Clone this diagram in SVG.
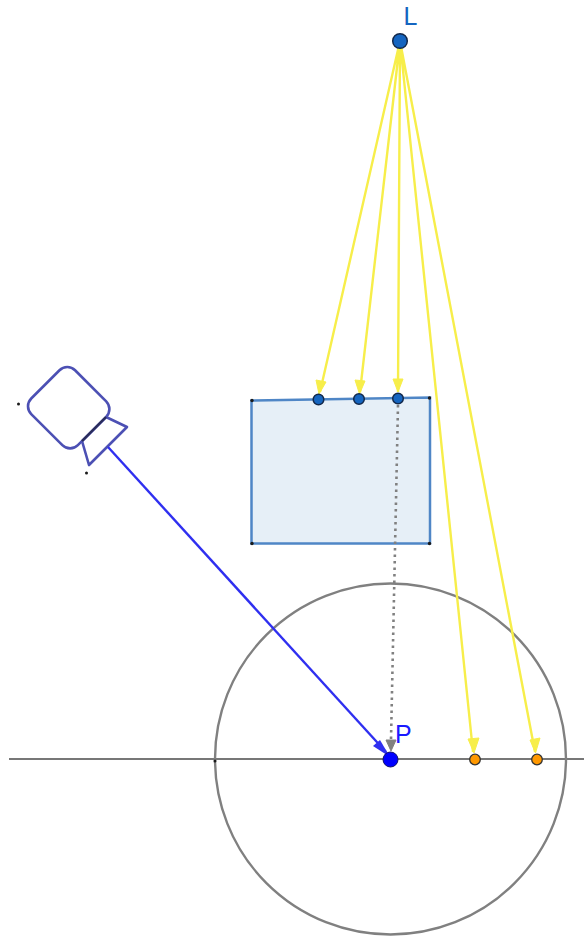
<svg xmlns="http://www.w3.org/2000/svg" width="584" height="942" viewBox="0 0 584 942">
<style>
text{font-family:"Liberation Sans",Arial,sans-serif;font-size:25px}
.ray{stroke:#f7ee4a;stroke-width:2.4;fill:none}
.dot{fill:#1a1a1a}
.cam{fill:#fff;stroke:#4c50b4;stroke-width:2.6;stroke-linejoin:round}
.b{fill:#1565c0;stroke:#13294b;stroke-width:1.5}
.o{fill:#ff9800;stroke:#333;stroke-width:1.3}
</style>
<defs>
<marker id="y" viewBox="0 0 12 14" refX="6" refY="14" markerWidth="12" markerHeight="14" markerUnits="userSpaceOnUse" orient="auto" ><path d="M0 0L6 3L12 0L6 14Z" fill="#f7ee4a" transform="rotate(0)"/></marker>
</defs>
<rect width="584" height="942" fill="#fff"/>
<g id="ground"><line x1="9" y1="759" x2="584" y2="759" stroke="#777" stroke-width="2.2"/></g>
<g id="circle"><circle cx="390.500" cy="759" r="175.500" fill="none" stroke="#808080" stroke-width="2.400"/><circle cx="215" cy="761" r="1.500" class="dot"/></g>
<g id="box">
<path d="M251.500 400.500L430 397.500V543.500H251.500Z" fill="#e6eff7" stroke="#4f86c6" stroke-width="2.500"/>
<circle cx="252" cy="400.500" r="1.700" class="dot"/><circle cx="429.500" cy="398" r="1.700" class="dot"/><circle cx="252" cy="543.500" r="1.700" class="dot"/><circle cx="429.500" cy="543.500" r="1.700" class="dot"/>
</g>
<g id="camera">
<path d="M106 417L127 427L89 465L82 441Z" class="cam"/>
<rect x="36" y="376" width="66" height="62" rx="11" transform="rotate(45 68 407)" class="cam"/>
<line x1="82" y1="441" x2="106" y2="417" stroke="#2a2d5a" stroke-width="2.400"/>
<circle cx="18.500" cy="404" r="1.500" class="dot"/><circle cx="86.500" cy="473" r="1.500" class="dot"/>
</g>
<g id="connectors">
<line x1="108" y1="447" x2="386" y2="752" stroke="#2f2ff0" stroke-width="2.400"/>
<path d="M390 757L373 746L380 740Z" fill="#2f2ff0"/>
<line x1="398" y1="405" x2="391" y2="740" stroke="#808080" stroke-width="2.600" stroke-dasharray="2.500 4"/>
<path d="M391 751L386 740H396Z" fill="#808080" stroke="#808080"/>
<path d="M400 41L320 392M400 41L360 392M400 41L398 392M400 41L473 752M400 41L535 752" class="ray"/>
<path d="M319 394L316 380L326 382ZM359.500 394L355 380L365 381ZM398 392L393 379H403ZM474 753L468 739L479 738ZM535.500 753L530 740L540 738Z" fill="#f7ee4a" stroke="#f7ee4a"/>
</g>
<g id="L"><circle cx="400" cy="41" r="7.300" class="b"/><text x="403.500" y="25" fill="#1565c0">L</text></g>
<g id="a"><circle cx="318.500" cy="399.500" r="5.300" class="b"/></g>
<g id="b"><circle cx="359" cy="399" r="5.300" class="b"/></g>
<g id="c"><circle cx="398" cy="398.500" r="5.300" class="b"/></g>
<g id="P"><circle cx="390.500" cy="759.500" r="7.500" fill="#0000ff" stroke="#10106a" stroke-width="1"/><text x="395" y="743" fill="#1a1aff">P</text></g>
<g id="d"><circle cx="475" cy="759.500" r="5.300" class="o"/></g>
<g id="e"><circle cx="537" cy="759.500" r="5.300" class="o"/></g>
</svg>
